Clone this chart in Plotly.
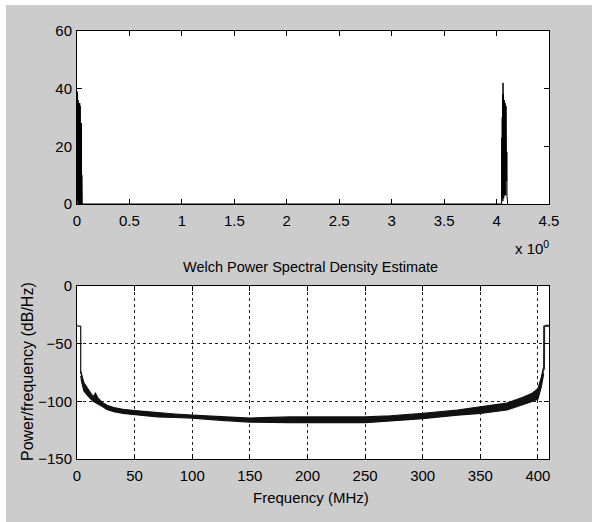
import plotly.graph_objects as go

# ---------------- data ----------------
# Upper panel: magnitude spectrum (x in units of 10^0), dense spikes near 0 and ~4.07
mag_x = [0.000, 0.002, 0.004, 0.006, 0.008, 0.010, 0.012, 0.014, 0.016, 0.018,
         0.020, 0.022, 0.024, 0.026, 0.028, 0.030, 0.032, 0.034, 0.036, 0.038,
         0.040, 0.042, 0.044, 0.046, 0.050,
         1.000, 2.000, 3.000, 4.040,
         4.048, 4.050, 4.052, 4.054, 4.056, 4.058, 4.060, 4.062, 4.064, 4.066,
         4.068, 4.070, 4.072, 4.074, 4.076, 4.078, 4.080, 4.082, 4.084, 4.086,
         4.088, 4.090, 4.092, 4.094, 4.096, 4.098, 4.100, 4.102, 4.106]
mag_y = [0, 39, 2, 38, 1, 36, 0, 35, 2, 35,
         0, 35, 1, 35, 0, 34, 1, 28, 0, 28,
         2, 28, 0, 10, 0,
         0, 0, 0, 0,
         0, 23, 2, 30, 3, 38, 1, 42, 4, 38,
         2, 37, 5, 36, 3, 36, 4, 35, 6, 35,
         3, 34, 10, 33, 8, 18, 2, 2, 0]

# Lower panel: Welch PSD (MHz, dB/Hz), upper and lower envelope of the dense trace
psd_f = [3.3, 4, 6, 8, 10, 14, 16, 18, 22, 26, 32, 40, 50, 60, 70, 85, 100,
         125, 150, 185, 200, 250, 272, 300, 330, 350, 373, 387, 395, 400, 403, 405]
psd_hi = [-74, -77, -84, -87, -90, -96, -93, -97, -101, -103.5, -105.5, -107, -108,
          -109, -110, -111, -112, -113, -114.5, -113.5, -113.5, -113.5, -112.5,
          -110.5, -107.5, -105, -101.5, -96.5, -93, -89, -79, -70]
psd_lo = [-78, -83, -91, -94, -96, -100, -101, -102, -104.5, -107, -109, -110.5,
          -111.5, -112.5, -113.5, -114, -114.5, -116.5, -118, -118.5, -118.5,
          -118.5, -117, -115, -112, -110.5, -107.5, -103, -100, -98, -87, -76]
# flat plateaus at both band edges and the thin transition lines
edge_lo_f = [0, 2.9, 3.2, 3.2, 3.3]
edge_lo_db = [-34.5, -34.5, -35, -76, -76]
edge_hi_f = [405, 405.3, 405.4, 407, 409.6]
edge_hi_db = [-73, -70, -35, -34.5, -34.5]

top_xticks = [0, 0.5, 1, 1.5, 2, 2.5, 3, 3.5, 4, 4.5]
top_yticks = [0, 20, 40, 60]
bot_xticks = [0, 50, 100, 150, 200, 250, 300, 350, 400]
bot_yticks = [0, -50, -100, -150]

# ---------------- figure ----------------
W, H = 592, 522
L, R, T, B = 77, 549, 31, 459
pw, ph = R - L, B - T

def px(x):
    return (x - L) / pw

def py(y):
    return (B - y) / ph

FONT = "Liberation Sans, Arial, sans-serif"
BG = "#cccccc"

fig = go.Figure()

fig.add_trace(go.Scatter(x=mag_x, y=mag_y, mode="lines",
                         line=dict(color="black", width=1), xaxis="x", yaxis="y",
                         showlegend=False, hoverinfo="skip"))

fig.add_trace(go.Scatter(x=psd_f, y=psd_lo, mode="lines",
                         line=dict(color="#111111", width=1.2), xaxis="x2", yaxis="y2",
                         showlegend=False, hoverinfo="skip"))
fig.add_trace(go.Scatter(x=psd_f, y=psd_hi, mode="lines", fill="tonexty",
                         fillcolor="#111111",
                         line=dict(color="#111111", width=1.2), xaxis="x2", yaxis="y2",
                         showlegend=False, hoverinfo="skip"))
fig.add_trace(go.Scatter(x=edge_lo_f, y=edge_lo_db, mode="lines",
                         line=dict(color="#222222", width=1.3), xaxis="x2", yaxis="y2",
                         showlegend=False, hoverinfo="skip"))
fig.add_trace(go.Scatter(x=edge_hi_f, y=edge_hi_db, mode="lines",
                         line=dict(color="#222222", width=2), xaxis="x2", yaxis="y2",
                         showlegend=False, hoverinfo="skip"))

TICKFONT = dict(family=FONT, size=15, color="black")
axis_common = dict(showline=True, linecolor="black", linewidth=1, mirror="ticks",
                   ticks="inside", ticklen=5, tickcolor="black", tickwidth=1,
                   zeroline=False, tickfont=TICKFONT)

top_dom = [py(204), 1.0]
bot_dom = [0.0, py(286)]

fig.update_layout(
    width=W, height=H,
    margin=dict(l=L, r=W - R, t=T, b=H - B, pad=0),
    paper_bgcolor=BG, plot_bgcolor="white",
    font=dict(family=FONT, size=14, color="black"),
    xaxis=dict(domain=[0, 1], anchor="y", range=[0, 4.5], tickvals=top_xticks,
               ticktext=[f"{v:g}" for v in top_xticks], showgrid=False,
               ticklabelstandoff=3, **axis_common),
    yaxis=dict(domain=top_dom, anchor="x", range=[0, 60], tickvals=top_yticks,
               showgrid=False, ticklabelstandoff=1, **axis_common),
    xaxis2=dict(domain=[0, 1], anchor="y2", range=[0, 409.6], tickvals=bot_xticks,
                showgrid=True, gridcolor="#222222", gridwidth=1, griddash="3px,3px",
                ticklabelstandoff=3, **axis_common),
    yaxis2=dict(domain=bot_dom, anchor="x2", range=[-150, 0], tickvals=bot_yticks,
                showgrid=True, gridcolor="#222222", gridwidth=1, griddash="3px,3px",
                ticklabelstandoff=1, **axis_common),
    annotations=[
        dict(text="Welch Power Spectral Density Estimate", x=px(310), y=py(267),
             xref="paper", yref="paper", showarrow=False, xanchor="center",
             yanchor="middle", font=dict(family=FONT, size=14.5)),
        dict(text="Frequency (MHz)", x=px(311), y=py(497), xref="paper", yref="paper",
             showarrow=False, xanchor="center", yanchor="middle",
             font=dict(family=FONT, size=15)),
        dict(text="Power/frequency (dB/Hz)", x=px(27), y=py(372), xref="paper",
             yref="paper", showarrow=False, textangle=-90, xanchor="center",
             yanchor="middle", font=dict(family=FONT, size=16)),
        dict(text="x 10<sup>0</sup>", x=px(532), y=py(247), xref="paper",
             yref="paper", showarrow=False, xanchor="center", yanchor="middle",
             font=dict(family=FONT, size=15)),
    ],
    shapes=[
        dict(type="rect", xref="paper", yref="paper", x0=px(-2), x1=px(6),
             y0=py(530), y1=py(-5), fillcolor="white", line=dict(width=0),
             layer="above"),
        dict(type="rect", xref="paper", yref="paper", x0=px(-2), x1=px(600),
             y0=py(5), y1=py(-5), fillcolor="white", line=dict(width=0),
             layer="above"),
    ],
)

fig.write_html("out.html")
